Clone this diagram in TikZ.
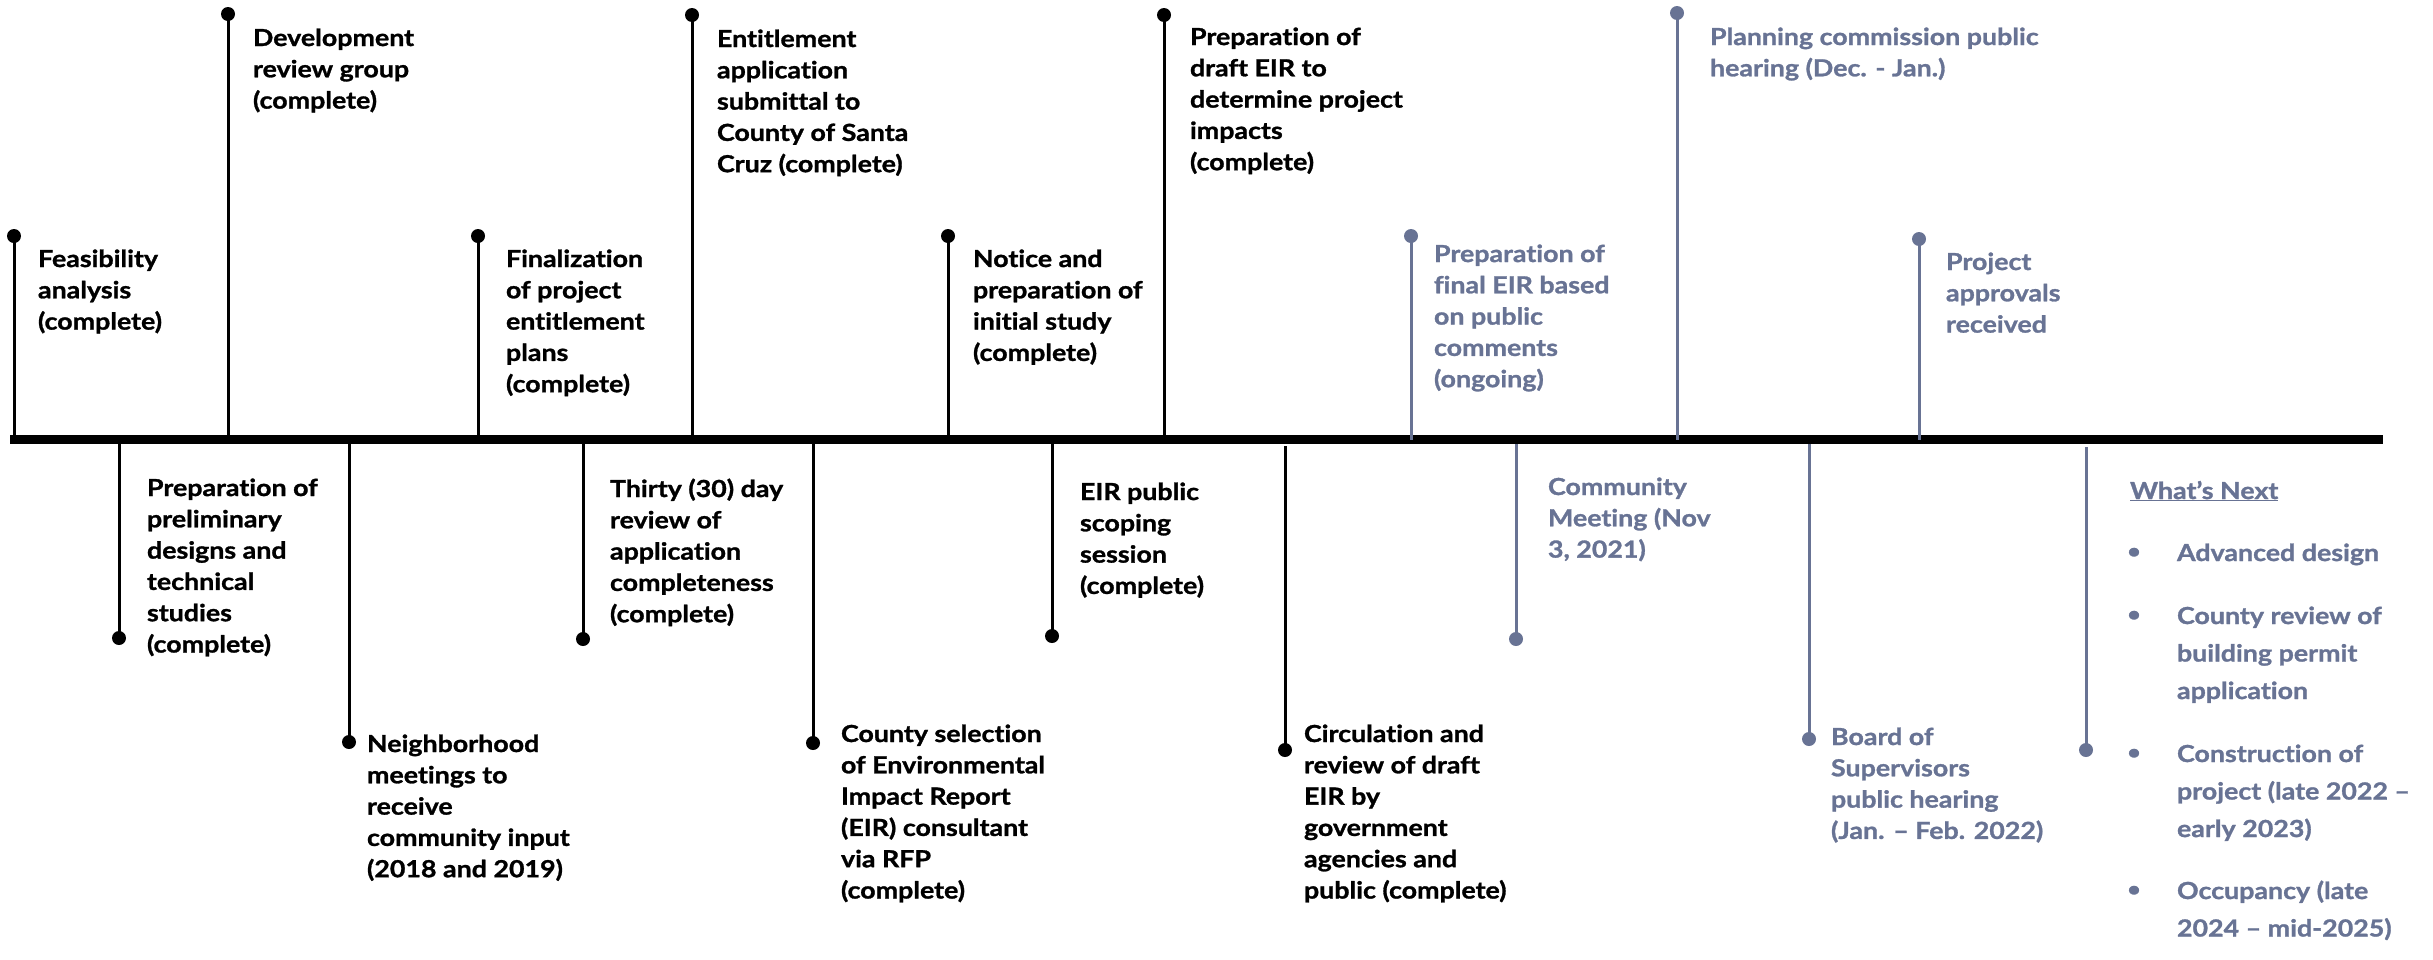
\documentclass[tikz,border=0pt]{standalone}
\usepackage{fontspec}
\setmainfont{Lato}[FakeStretch=1.14, Ligatures=NoCommon, BoldFeatures={FakeBold=1.2}]
\definecolor{slate}{RGB}{104,115,148}
\newcommand\lblstrut{\rule{0pt}{23pt}}
\tikzset{
 lbl/.style={anchor=north west, align=left, inner sep=0pt, outer sep=0pt, font=\bfseries\fontsize{23.5}{31.3}\selectfont},
 lblg/.style={lbl, text=slate},
 nextitem/.style={lblg, font=\bfseries\fontsize{23.5}{37.5}\selectfont},
 bul/.style={anchor=center, inner sep=0pt, text=slate, font=\bfseries\fontsize{20}{20}\selectfont},
 dotb/.style={circle, fill=black, inner sep=0pt, minimum size=14pt},
 dotg/.style={dotb, fill=slate},
 stemb/.style={line width=3pt, black},
 stemg/.style={line width=3pt, slate},
}
\begin{document}
\begin{tikzpicture}[x=1pt,y=-1pt]
\useasboundingbox (0,0) rectangle (2433,959);
% axis
\fill[black] (10,435) rectangle (2383,444);
% axis coordinates
\foreach \n/\x in {t1/14,t2/228,t3/478,t4/692,t5/948,t6/1164,t7/1411,t8/1677,t9/1919}
  \coordinate (a\n) at (\x,440);
\foreach \n/\x/\y in {s1/119/444,s2/349/444,s3/583/444,s4/813/444,s5/1052/444,s6/1285/446,s7/1516/444,s8/1809/444,s9/2086/447}
  \coordinate (a\n) at (\x,\y);
% top dots
\node[dotb] (dt1) at (14,236) {};
\node[dotb] (dt2) at (228,14) {};
\node[dotb] (dt3) at (478,236) {};
\node[dotb] (dt4) at (692,15) {};
\node[dotb] (dt5) at (948,236) {};
\node[dotb] (dt6) at (1164,15) {};
\node[dotg] (dt7) at (1411,236) {};
\node[dotg] (dt8) at (1677,13) {};
\node[dotg] (dt9) at (1919,239) {};
% bottom dots
\node[dotb] (ds1) at (119,638) {};
\node[dotb] (ds2) at (349,742) {};
\node[dotb] (ds3) at (583,639) {};
\node[dotb] (ds4) at (813,743) {};
\node[dotb] (ds5) at (1052,636) {};
\node[dotb] (ds6) at (1285,750) {};
\node[dotg] (ds7) at (1516,639) {};
\node[dotg] (ds8) at (1809,739) {};
\node[dotg] (ds9) at (2086,750) {};
% stems
\foreach \n in {t1,t2,t3,t4,t5,t6,s1,s2,s3,s4,s5,s6}
  \draw[stemb] (d\n.center) -- (a\n);
\foreach \n in {t7,t8,t9,s7,s8,s9}
  \draw[stemg] (d\n.center) -- (a\n);
% top labels
\node[lbl] (lt1) at (38,244) {\lblstrut Feasibility\\analysis\\(complete)};
\node[lbl] (lt2) at (253,23) {\lblstrut Development\\review group\\(complete)};
\node[lbl] (lt3) at (506,244) {\lblstrut Finalization\\of project\\entitlement\\plans\\(complete)};
\node[lbl] (lt4) at (717,24) {\lblstrut Entitlement\\application\\submittal to\\County of Santa\\Cruz (complete)};
\node[lbl] (lt5) at (973,244) {\lblstrut Notice and\\preparation of\\initial study\\(complete)};
\node[lbl] (lt6) at (1190,22) {\lblstrut Preparation of\\draft EIR to\\determine project\\impacts\\(complete)};
\node[lblg] (lt7) at (1434,239) {\lblstrut Preparation of\\final EIR based\\on public\\comments\\(ongoing)};
\node[lblg] (lt8) at (1710,22) {\lblstrut Planning commission public\\hearing (Dec. - Jan.)};
\node[lblg] (lt9) at (1946,247) {\lblstrut Project\\approvals\\received};
% bottom labels
\node[lbl] (ls1) at (147,473) {\lblstrut Preparation of\\preliminary\\designs and\\technical\\studies\\(complete)};
\node[lbl] (ls2) at (367,729) {\lblstrut Neighborhood\\meetings to\\receive\\community input\\(2018 and 2019)};
\node[lbl] (ls3) at (610,474) {\lblstrut Thirty (30) day\\review of\\application\\completeness\\(complete)};
\node[lbl] (ls4) at (841,719) {\lblstrut County selection\\of Environmental\\Impact Report\\(EIR) consultant\\via RFP\\(complete)};
\node[lbl] (ls5) at (1080,477) {\lblstrut EIR public\\scoping\\session\\(complete)};
\node[lbl] (ls6) at (1304,719) {\lblstrut Circulation and\\review of draft\\EIR by\\government\\agencies and\\public (complete)};
\node[lblg] (ls7) at (1548,472) {\lblstrut Community\\Meeting (Nov\\3, 2021)};
\node[lblg] (ls8) at (1831,722) {\lblstrut Board of\\Supervisors\\public hearing\\(Jan. – Feb. 2022)};
% what's next
\node[lblg] (wn) at (2130,476) {\lblstrut \underline{What’s Next}};
\node[nextitem] (n1) at (2177,538) {\lblstrut Advanced design};
\node[nextitem] (n2) at (2177,601) {\lblstrut County review of\\building permit\\application};
\node[nextitem] (n3) at (2177,739) {\lblstrut Construction of\\project (late 2022 –\\early 2023)};
\node[nextitem] (n4) at (2177,876) {\lblstrut Occupancy (late\\2024 – mid-2025)};
\node[bul] (u1) at (2134,553) {•};
\node[bul] (u2) at (2134,616) {•};
\node[bul] (u3) at (2134,754) {•};
\node[bul] (u4) at (2134,891) {•};
\end{tikzpicture}
\end{document}
